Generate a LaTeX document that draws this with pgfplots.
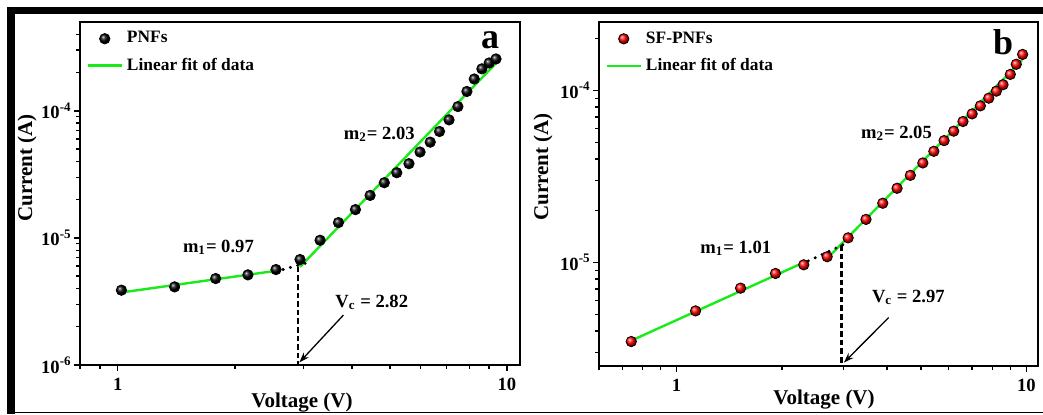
\documentclass[border=0pt]{standalone}
\usepackage{fontspec}
\setmainfont{Liberation Serif}
\usepackage{pgfplots}
\pgfplotsset{compat=1.18}
\usetikzlibrary{arrows.meta}
\definecolor{fitgreen}{RGB}{25,235,25}
\tikzset{
  fitline/.style={color=fitgreen, line width=1.2pt},
  dotl/.style={black, line width=1.7pt, line cap=round, dash pattern=on 0pt off 3.8pt},
  dashl/.style={black, line width=1.2pt, dash pattern=on 2.8pt off 1.5pt},
  arr/.style={black, line width=0.65pt, -{Stealth[length=5pt,width=3.5pt]}},
}
\pgfplotsset{
  legend image code/.code={\draw[mark repeat=2,mark phase=2,#1] plot coordinates {(0pt,0pt)(8.5pt,0pt)(17pt,0pt)};},
  scale only axis,
  axis line style={line width=0.8pt},
  tick align=outside, xtick pos=bottom, ytick pos=left,
  major tick length=3pt, minor tick length=1.8pt,
  every tick/.style={black, line width=0.7pt},
  tick label style={font=\fontsize{9.3}{10}\selectfont\bfseries},
  yticklabel style={inner sep=1pt},
  legend style={draw=none, fill=none, anchor=north west,
    font=\fontsize{8.7}{10}\selectfont\bfseries, legend cell align=left,
    inner xsep=0pt, inner ysep=0pt, row sep=2pt},
}
\begin{document}
\begin{tikzpicture}
\useasboundingbox (0,0) rectangle (521.5pt,207pt);
% ---------------- panel a
\begin{axis}[xmode=log, ymode=log, anchor=south west, at={(40pt,24.5pt)}, width=220pt, height=171.5pt,
  xmin=0.8, xmax=10.8, ymin=1e-6, ymax=5e-4, clip=false,
  xtick={1,10}, xticklabels={1,10},
  ytick={1e-6,1e-5,1e-4},
  yticklabels={\textbf{10}\textsuperscript{\textbf{-6}},\textbf{10}\textsuperscript{\textbf{-5}},\textbf{10}\textsuperscript{\textbf{-4}}},
  minor xtick={0.8,0.9,2,3,4,5,6,7,8,9},
  minor ytick={2e-6,3e-6,4e-6,5e-6,6e-6,7e-6,8e-6,9e-6,2e-5,3e-5,4e-5,5e-5,6e-5,7e-5,8e-5,9e-5,2e-4,3e-4,4e-4},
  legend style={at={(axis description cs:0.014,0.985)}}]
\addplot[only marks, mark=ball, ball color=black, mark size=2.6pt] coordinates {
(1.022,3.88e-6) (1.40,4.12e-6) (1.785,4.79e-6) (2.16,5.12e-6) (2.55,5.64e-6)
(2.94,6.76e-6) (3.31,9.59e-6) (3.69,1.32e-5) (4.08,1.67e-5) (4.45,2.16e-5)
(4.84,2.72e-5) (5.21,3.26e-5) (5.60,3.84e-5) (5.98,4.74e-5) (6.35,5.67e-5)
(6.71,6.88e-5) (7.10,8.49e-5) (7.48,1.08e-4) (7.89,1.42e-4) (8.24,1.78e-4)
(8.62,2.14e-4) (9.00,2.38e-4) (9.37,2.56e-4)};
\addlegendentry{PNFs}
\addplot[fitline, mark=none] coordinates {(1.02,3.72e-6) (2.55,5.51e-6)};
\addlegendentry{Linear fit of data}
\addplot[fitline, mark=none, forget plot] coordinates {(2.94,5.92e-6) (9.42,2.41e-4)};
\draw[dotl] (axis cs:2.66,5.64e-6) -- (axis cs:3.12,6.48e-6);
\draw[dashl] (axis cs:2.90,5.92e-6) -- (axis cs:2.90,1e-6);
\draw[arr] (axis cs:3.80,2.47e-6) -- (axis cs:2.93,1.05e-6);
\end{axis}
% ---------------- panel b
\begin{axis}[xmode=log, ymode=log, anchor=south west, at={(299.5pt,24pt)}, width=219.5pt, height=172pt,
  xmin=0.6, xmax=10.8, ymin=2.5e-6, ymax=2.5e-4, clip=false,
  xtick={1,10}, xticklabels={1,10},
  ytick={1e-5,1e-4},
  yticklabels={\textbf{10}\textsuperscript{\textbf{-5}},\textbf{10}\textsuperscript{\textbf{-4}}},
  minor xtick={0.6,0.7,0.8,0.9,2,3,4,5,6,7,8,9},
  minor ytick={3e-6,4e-6,5e-6,6e-6,7e-6,8e-6,9e-6,2e-5,3e-5,4e-5,5e-5,6e-5,7e-5,8e-5,9e-5,2e-4},
  legend style={at={(axis description cs:0.014,0.985)}}]
\addplot[only marks, mark=ball, ball color=red, mark size=2.6pt] coordinates {
(0.742,3.47e-6) (1.133,5.23e-6) (1.524,7.09e-6) (1.918,8.63e-6) (2.31,9.69e-6)
(2.695,1.08e-5) (3.094,1.39e-5) (3.48,1.78e-5) (3.887,2.21e-5) (4.27,2.70e-5)
(4.66,3.21e-5) (5.06,3.79e-5) (5.44,4.43e-5) (5.82,5.11e-5) (6.20,5.80e-5)
(6.59,6.60e-5) (7.00,7.31e-5) (7.39,8.14e-5) (7.81,9.02e-5) (8.21,9.91e-5)
(8.58,1.08e-4) (9.00,1.24e-4) (9.36,1.42e-4) (9.76,1.62e-4)};
\addlegendentry{SF-PNFs}
\addplot[fitline, mark=none] coordinates {(0.746,3.53e-6) (2.30,9.96e-6)};
\addlegendentry{Linear fit of data}
\addplot[fitline, mark=none, forget plot] coordinates {(2.683,1.046e-5) (9.72,1.50e-4)};
\draw[dotl] (axis cs:2.38,1.02e-5) -- (axis cs:3.0,1.27e-5);
\draw[dashl] (axis cs:2.96,1.26e-5) -- (axis cs:2.96,2.5e-6);
\draw[arr] (axis cs:4.04,4.78e-6) -- (axis cs:3.01,2.62e-6);
\end{axis}
% ---------------- texts
\begin{scope}[every node/.style={font=\bfseries\fontsize{9.3}{10}\selectfont, inner sep=0pt}]
\node[anchor=base west] at (91.3pt,80.7pt) {m\textsubscript{1}= 0.97};
\node[anchor=base west] at (171.7pt,137.3pt) {m\textsubscript{2}= 2.03};
\node[anchor=base west] at (167.5pt,53.3pt) {V\textsubscript{c} = 2.82};
\node[anchor=base west] at (350pt,80.3pt) {m\textsubscript{1}= 1.01};
\node[anchor=base west] at (430.3pt,137.8pt) {m\textsubscript{2}= 2.05};
\node[anchor=base west] at (435.8pt,55.7pt) {V\textsubscript{c} = 2.97};
\end{scope}
\begin{scope}[every node/.style={font=\bfseries\fontsize{10.5}{12}\selectfont, inner sep=0pt}]
\node[anchor=base] at (151pt,3.5pt) {Voltage (V)};
\node[anchor=base] at (412pt,5pt) {Voltage (V)};
\node[rotate=90] at (13.5pt,123pt) {Current (A)};
\node[rotate=90] at (271.5pt,123.5pt) {Current (A)};
\end{scope}
\node[font=\bfseries\fontsize{18}{20}\selectfont, inner sep=0pt] at (245pt,187pt) {a};
\node[font=\bfseries\fontsize{18}{20}\selectfont, inner sep=0pt] at (501.5pt,185.7pt) {b};
% ---------------- outer frame
\fill[black] (3.5pt,200pt) rectangle (521.5pt,203.5pt);
\fill[black] (3.5pt,0pt) rectangle (7.5pt,203.5pt);
\fill[black] (3.5pt,0.3pt) rectangle (521.5pt,1pt);
\end{tikzpicture}
\end{document}
